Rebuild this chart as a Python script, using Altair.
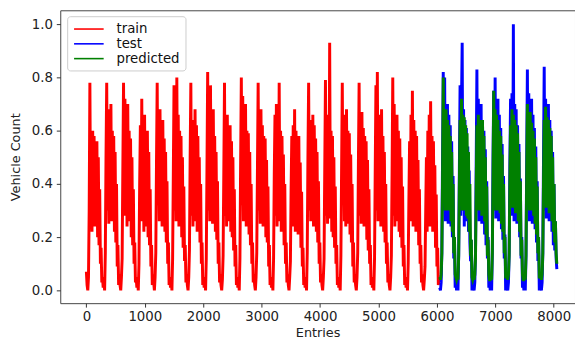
import altair as alt
import pandas as pd

# one reading per hour (12 entries of 5-minute data), 288 entries per day
STEP = 12

series_names = ["train", "test", "predicted"]
series_colors = ["#ff0000", "#0000ff", "#008000"]
x_ticks = [0, 1000, 2000, 3000, 4000, 5000, 6000, 7000, 8000]
y_ticks = [0.0, 0.2, 0.4, 0.6, 0.8, 1.0]

train_vals = [
    0.07, 0.02, 0.00, 0.05, 0.30, 0.78, 0.28, 0.55, 0.22, 0.60, 0.30, 0.58, 0.24, 0.52, 0.28, 0.56, 0.20, 0.50, 0.17, 0.38, 0.10, 0.16, 0.03, 0.05,
    0.01, 0.04, 0.00, 0.14, 0.50, 0.78, 0.30, 0.62, 0.25, 0.68, 0.32, 0.70, 0.26, 0.60, 0.30, 0.58, 0.22, 0.52, 0.18, 0.40, 0.09, 0.17, 0.02, 0.06,
    0.02, 0.00, 0.05, 0.12, 0.46, 0.78, 0.28, 0.72, 0.30, 0.65, 0.24, 0.70, 0.32, 0.60, 0.26, 0.57, 0.20, 0.50, 0.17, 0.38, 0.10, 0.18, 0.03, 0.05,
    0.01, 0.04, 0.00, 0.10, 0.40, 0.62, 0.26, 0.72, 0.30, 0.62, 0.22, 0.66, 0.28, 0.58, 0.24, 0.60, 0.20, 0.52, 0.17, 0.38, 0.09, 0.17, 0.02, 0.06,
    0.03, 0.00, 0.05, 0.14, 0.48, 0.78, 0.32, 0.60, 0.26, 0.68, 0.30, 0.58, 0.24, 0.64, 0.28, 0.57, 0.22, 0.52, 0.18, 0.41, 0.10, 0.18, 0.02, 0.05,
    0.01, 0.04, 0.00, 0.12, 0.44, 0.77, 0.30, 0.62, 0.26, 0.80, 0.32, 0.66, 0.24, 0.60, 0.28, 0.58, 0.20, 0.50, 0.16, 0.39, 0.11, 0.17, 0.03, 0.06,
    0.02, 0.00, 0.05, 0.15, 0.50, 0.78, 0.28, 0.64, 0.24, 0.60, 0.30, 0.68, 0.26, 0.62, 0.22, 0.58, 0.27, 0.50, 0.18, 0.40, 0.10, 0.18, 0.02, 0.05,
    0.01, 0.05, 0.00, 0.12, 0.46, 0.82, 0.30, 0.66, 0.26, 0.77, 0.32, 0.62, 0.25, 0.68, 0.28, 0.58, 0.22, 0.52, 0.19, 0.41, 0.10, 0.18, 0.03, 0.06,
    0.02, 0.00, 0.04, 0.13, 0.44, 0.78, 0.28, 0.60, 0.24, 0.66, 0.30, 0.58, 0.26, 0.62, 0.22, 0.56, 0.20, 0.50, 0.15, 0.38, 0.09, 0.17, 0.02, 0.05,
    0.01, 0.04, 0.00, 0.12, 0.48, 0.80, 0.32, 0.73, 0.26, 0.64, 0.30, 0.70, 0.24, 0.60, 0.28, 0.59, 0.21, 0.52, 0.17, 0.40, 0.10, 0.18, 0.03, 0.06,
    0.02, 0.00, 0.05, 0.14, 0.46, 0.78, 0.30, 0.60, 0.25, 0.68, 0.31, 0.62, 0.24, 0.58, 0.27, 0.57, 0.20, 0.49, 0.18, 0.39, 0.09, 0.17, 0.02, 0.05,
    0.01, 0.04, 0.00, 0.12, 0.44, 0.66, 0.28, 0.70, 0.24, 0.66, 0.30, 0.78, 0.26, 0.60, 0.22, 0.58, 0.28, 0.51, 0.17, 0.40, 0.10, 0.18, 0.03, 0.06,
    0.02, 0.00, 0.05, 0.11, 0.38, 0.58, 0.24, 0.62, 0.28, 0.68, 0.22, 0.60, 0.26, 0.56, 0.21, 0.58, 0.24, 0.48, 0.16, 0.37, 0.09, 0.16, 0.02, 0.05,
    0.01, 0.04, 0.00, 0.14, 0.50, 0.78, 0.30, 0.64, 0.26, 0.60, 0.31, 0.66, 0.24, 0.62, 0.28, 0.57, 0.22, 0.52, 0.18, 0.41, 0.10, 0.18, 0.03, 0.06,
    0.02, 0.00, 0.05, 0.12, 0.46, 0.79, 0.28, 0.62, 0.25, 0.66, 0.30, 0.93, 0.27, 0.60, 0.22, 0.58, 0.20, 0.50, 0.16, 0.39, 0.10, 0.17, 0.02, 0.05,
    0.01, 0.04, 0.00, 0.13, 0.45, 0.78, 0.32, 0.66, 0.26, 0.62, 0.24, 0.68, 0.30, 0.60, 0.25, 0.59, 0.21, 0.51, 0.18, 0.40, 0.09, 0.18, 0.03, 0.06,
    0.02, 0.00, 0.05, 0.14, 0.48, 0.78, 0.28, 0.63, 0.25, 0.67, 0.31, 0.61, 0.24, 0.58, 0.27, 0.56, 0.19, 0.49, 0.15, 0.38, 0.10, 0.17, 0.02, 0.05,
    0.01, 0.04, 0.00, 0.12, 0.46, 0.77, 0.30, 0.82, 0.26, 0.66, 0.32, 0.62, 0.24, 0.68, 0.28, 0.58, 0.22, 0.52, 0.18, 0.40, 0.10, 0.18, 0.03, 0.06,
    0.02, 0.00, 0.05, 0.13, 0.44, 0.80, 0.28, 0.70, 0.24, 0.64, 0.30, 0.66, 0.26, 0.60, 0.22, 0.57, 0.20, 0.50, 0.16, 0.39, 0.09, 0.17, 0.02, 0.05,
    0.01, 0.04, 0.00, 0.10, 0.34, 0.56, 0.26, 0.66, 0.30, 0.75, 0.24, 0.64, 0.28, 0.60, 0.22, 0.58, 0.26, 0.49, 0.17, 0.38, 0.10, 0.17, 0.03, 0.06,
    0.02, 0.00, 0.04, 0.09, 0.30, 0.50, 0.22, 0.60, 0.28, 0.66, 0.24, 0.71, 0.27, 0.58, 0.22, 0.56, 0.25, 0.47, 0.16, 0.36, 0.09, 0.16, 0.02, 0.05,
]

test_vals = [
    0.01, 0.00, 0.03, 0.14, 0.50, 0.82, 0.30, 0.80, 0.26, 0.68, 0.32, 0.70, 0.25, 0.66, 0.28, 0.62, 0.24, 0.56, 0.20, 0.43, 0.12, 0.20, 0.01, 0.04,
    0.00, 0.02, 0.00, 0.13, 0.46, 0.77, 0.28, 0.70, 0.93, 0.30, 0.68, 0.24, 0.64, 0.30, 0.61, 0.26, 0.54, 0.22, 0.45, 0.18, 0.11, 0.19, 0.00, 0.03,
    0.01, 0.00, 0.03, 0.14, 0.48, 0.83, 0.30, 0.72, 0.26, 0.68, 0.32, 0.70, 0.25, 0.64, 0.28, 0.60, 0.21, 0.53, 0.17, 0.41, 0.12, 0.20, 0.01, 0.04,
    0.00, 0.02, 0.00, 0.15, 0.50, 0.75, 0.30, 0.80, 0.27, 0.70, 0.33, 0.72, 0.26, 0.66, 0.30, 0.61, 0.23, 0.55, 0.19, 0.43, 0.12, 0.21, 0.00, 0.03,
    0.01, 0.00, 0.03, 0.14, 0.47, 0.72, 0.28, 0.74, 0.30, 1.00, 0.26, 0.70, 0.31, 0.68, 0.25, 0.62, 0.28, 0.55, 0.20, 0.42, 0.12, 0.20, 0.01, 0.04,
    0.00, 0.02, 0.00, 0.13, 0.48, 0.83, 0.30, 0.74, 0.26, 0.70, 0.32, 0.72, 0.25, 0.66, 0.29, 0.61, 0.23, 0.54, 0.18, 0.41, 0.11, 0.19, 0.00, 0.03,
    0.01, 0.00, 0.03, 0.14, 0.50, 0.84, 0.30, 0.72, 0.27, 0.68, 0.33, 0.70, 0.26, 0.64, 0.28, 0.60, 0.22, 0.52, 0.17, 0.40, 0.15, 0.26, 0.12, 0.08,
]

pred_vals = [
    0.05, 0.04, 0.06, 0.14, 0.42, 0.80, 0.34, 0.66, 0.30, 0.68, 0.34, 0.64, 0.30, 0.62, 0.30, 0.58, 0.26, 0.52, 0.22, 0.40, 0.14, 0.20, 0.06, 0.05,
    0.04, 0.05, 0.04, 0.13, 0.40, 0.64, 0.32, 0.72, 0.30, 0.66, 0.32, 0.65, 0.30, 0.62, 0.28, 0.59, 0.27, 0.52, 0.22, 0.40, 0.13, 0.19, 0.05, 0.04,
    0.05, 0.04, 0.06, 0.12, 0.38, 0.62, 0.32, 0.66, 0.30, 0.64, 0.33, 0.62, 0.28, 0.64, 0.30, 0.58, 0.26, 0.50, 0.21, 0.39, 0.13, 0.19, 0.06, 0.04,
    0.04, 0.05, 0.04, 0.14, 0.42, 0.75, 0.32, 0.68, 0.30, 0.66, 0.34, 0.64, 0.30, 0.60, 0.29, 0.58, 0.25, 0.51, 0.22, 0.40, 0.14, 0.20, 0.05, 0.05,
    0.05, 0.04, 0.06, 0.13, 0.40, 0.62, 0.34, 0.68, 0.31, 0.66, 0.33, 0.64, 0.29, 0.62, 0.30, 0.59, 0.26, 0.52, 0.22, 0.41, 0.13, 0.19, 0.06, 0.04,
    0.04, 0.05, 0.04, 0.13, 0.42, 0.70, 0.32, 0.66, 0.30, 0.67, 0.33, 0.63, 0.30, 0.60, 0.28, 0.57, 0.25, 0.50, 0.21, 0.39, 0.14, 0.20, 0.05, 0.05,
    0.05, 0.04, 0.06, 0.14, 0.41, 0.64, 0.33, 0.69, 0.31, 0.65, 0.32, 0.64, 0.29, 0.61, 0.30, 0.58, 0.26, 0.50, 0.22, 0.40, 0.18, 0.26, 0.14, 0.10,
]

rows = []
for i, v in enumerate(train_vals):
    rows.append({"entry": i * STEP, "value": v, "series": "train"})
start = len(train_vals) * STEP
for i, v in enumerate(test_vals):
    rows.append({"entry": start + i * STEP, "value": v, "series": "test"})
for i, v in enumerate(pred_vals):
    rows.append({"entry": start + i * STEP, "value": v, "series": "predicted"})
df = pd.DataFrame(rows)

FONT = "DejaVu Sans"

x_enc = alt.X(
    "entry:Q",
    scale=alt.Scale(domain=[-447, 8363], nice=False, zero=False),
    axis=alt.Axis(values=x_ticks, format="d", title="Entries", grid=False,
                  domain=False, tickSize=4, tickColor="#333", labelPadding=3,
                  titlePadding=3, labelFlush=False),
)
y_enc = alt.Y(
    "value:Q",
    scale=alt.Scale(domain=[-0.048, 1.052], nice=False, zero=False),
    axis=alt.Axis(values=y_ticks, format=".1f", title="Vehicle Count", grid=False,
                  domain=False, tickSize=4, tickColor="#333", labelPadding=4,
                  titlePadding=9, labelFlush=False),
)
color_enc = alt.Color(
    "series:N",
    scale=alt.Scale(domain=series_names, range=series_colors),
    legend=alt.Legend(
        title=None, orient="none", legendX=7, legendY=6,
        symbolType="M-0.857,0H3.43", symbolSize=196, symbolStrokeWidth=1.6,
        labelFontSize=13.5, labelFont=FONT, labelColor="#111", labelOffset=29,
        rowPadding=0, padding=5, strokeColor="#cccccc", fillColor="white",
        cornerRadius=3,
    ),
)

base = alt.Chart(df).mark_line(strokeWidth=3.0, clip=True).encode(
    x=x_enc, y=y_enc, color=color_enc
)
layers = [base.transform_filter(alt.datum.series == s) for s in series_names]

chart = (
    alt.layer(*layers)
    .properties(width=522, height=297,
                padding={"left": 53, "top": 0, "right": 0, "bottom": 34},
                autosize=alt.AutoSizeParams(type="none"))
    .configure_view(stroke="#444", strokeWidth=1)
    .configure_axis(labelFont=FONT, titleFont=FONT, labelFontSize=13.5,
                    titleFontSize=13, labelColor="#222", titleColor="#222",
                    titleFontWeight="normal")
)

chart.save("out.html", embed_options={"renderer": "svg", "actions": False})
